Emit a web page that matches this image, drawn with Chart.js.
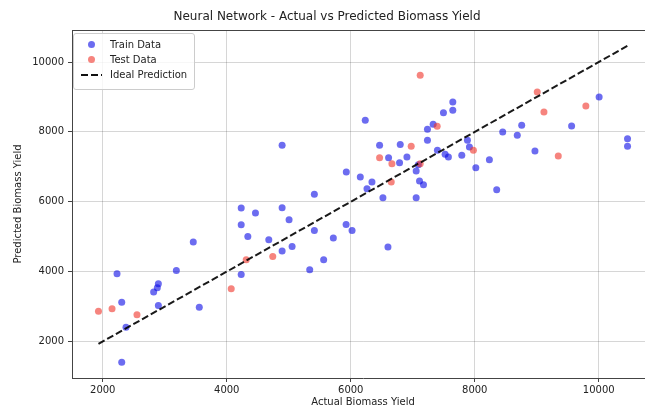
<!DOCTYPE html>
<html>
<head>
<meta charset="utf-8">
<script src="https://cdn.jsdelivr.net/npm/chart.js@4.4.0/dist/chart.umd.min.js"></script>
<style>
  html, body { margin: 0; padding: 0; overflow: hidden; background: #fff; width: 645px; height: 408px; }
  #wrap { position: relative; width: 700px; height: 408px; }
  #legend {
    position: absolute; left: 73px; top: 33px; width: 120px; height: 52px;
    border: 1px solid #ccc; border-radius: 3px; background: rgba(255,255,255,0.8);
    font: 10px "DejaVu Sans", sans-serif; color: #222; box-sizing: content-box;
    padding-top: 3px;
  }
  .row { position: relative; height: 15px; line-height: 15px; }
  .row span.lbl { position: absolute; left: 36px; top: 0; white-space: nowrap; }
  .dot { position: absolute; left: 14px; top: 4px; width: 7px; height: 7px; border-radius: 50%; }
  .dash { position: absolute; left: 7px; top: 7px; width: 21px; height: 2px;
    background: repeating-linear-gradient(to right, #111 0 7px, transparent 7px 10px); }
</style>
</head>
<body>
<div id="wrap">
  <canvas id="chart" width="700" height="408"></canvas>
  <div id="legend"></div>
</div>
<script>
// training set: actual vs predicted
const trainActual = [3460, 2230, 3187, 2897, 2880, 2821, 2306, 2897, 3557, 2375, 2306,
  4893, 5928, 5413, 4233, 4463, 4893, 5005, 4233, 5413, 5925, 6021, 4340, 4678, 5719,
  5054, 4893, 5563, 5338, 4233, 6234, 7237, 7329, 7237, 6465, 6798, 6610, 6906, 7398,
  6787, 7055, 7109, 7173, 6342, 6154, 6262, 6519, 7055, 6600, 7495, 7646, 7646, 7882,
  7914, 8451, 8686, 8757, 8971, 7791, 7522, 7575, 8017, 8236, 8354, 10006, 9562, 10464,
  10464, 7090];
const trainPredicted = [4845, 3940, 4034, 3653, 3540, 3413, 3126, 3031, 2983, 2410, 1407,
  7615, 6850, 6212, 5819, 5676, 5830, 5486, 5343, 5180, 5352, 5180, 5008, 4914, 4960,
  4722, 4587, 4340, 4054, 3920, 8332, 8074, 8217, 7758, 7615, 7636, 7263, 7282, 7472,
  7120, 6879, 6593, 6490, 6564, 6707, 6375, 6117, 6117, 4708, 8548, 8855, 8618, 7758,
  7567, 7997, 7902, 8189, 7452, 7329, 7357, 7282, 6976, 7205, 6346, 9000, 8168, 7806,
  7586, 7060];

// test set: actual vs predicted
const testActual = [1931, 2150, 2552, 4742, 4314, 4072, 7120, 7394, 6975, 6465, 6664,
  7120, 6653, 7978, 9008, 9116, 9792, 9347];
const testPredicted = [2868, 2937, 2765, 4435, 4340, 3510, 9621, 8160, 7587, 7263, 7091,
  7091, 6564, 7472, 9143, 8570, 8742, 7309];

const idealRange = [1931, 10464];
const xTickValues = [2000, 4000, 6000, 8000, 10000];
const yTickValues = [2000, 4000, 6000, 8000, 10000];

const FONT = 'DejaVu Sans';

function toPoints(xs, ys) {
  return xs.map((x, i) => ({ x: x, y: ys[i] }));
}

// top spine (left/bottom come from the axis borders, right one is cut off)
const frame = {
  id: 'frame',
  beforeDatasetsDraw(chart) {
    const { ctx, chartArea: a } = chart;
    ctx.save();
    ctx.strokeStyle = '#444';
    ctx.lineWidth = 1;
    ctx.beginPath();
    ctx.moveTo(a.left, a.top + 0.5);
    ctx.lineTo(a.right, a.top + 0.5);
    ctx.stroke();
    ctx.restore();
  }
};

const ctx = document.getElementById('chart').getContext('2d');

new Chart(ctx, {
  type: 'scatter',
  data: {
    datasets: [{
      label: 'Ideal Prediction',
      data: idealRange.map(v => ({ x: v, y: v })),
      showLine: true,
      borderColor: 'rgba(0,0,0,0.9)',
      borderWidth: 2,
      borderDash: [7, 3],
      pointRadius: 0,
      order: 0
    }, {
      label: 'Test Data',
      data: toPoints(testActual, testPredicted),
      backgroundColor: 'rgba(240,50,40,0.6)',
      borderWidth: 0,
      pointRadius: 3.5,
      order: 1
    }, {
      label: 'Train Data',
      data: toPoints(trainActual, trainPredicted),
      backgroundColor: 'rgba(10,10,230,0.6)',
      borderWidth: 0,
      pointRadius: 3.5,
      order: 2
    }]
  },
  options: {
    responsive: false,
    animation: false,
    devicePixelRatio: 1,
    layout: { padding: { left: 0, right: 46, top: 0, bottom: 0 } },
    plugins: {
      legend: { display: false },
      tooltip: { enabled: false },
      title: {
        display: true,
        text: 'Neural Network - Actual vs Predicted Biomass Yield',
        color: '#222',
        font: { family: FONT, size: 12, weight: 'normal' },
        padding: { top: 10, bottom: 5.6 }
      }
    },
    scales: {
      x: {
        type: 'linear',
        min: 1504,
        max: 10891,
        afterBuildTicks: s => { s.ticks = xTickValues.map(v => ({ value: v })); },
        afterFit: s => { s.height = 30; },
        ticks: { color: '#222', font: { family: FONT, size: 10 }, padding: 2,
          callback: v => String(v) },
        grid: { color: 'rgba(0,0,0,0.16)', tickColor: '#444', tickLength: 4 },
        border: { color: '#444' },
        title: {
          display: true, text: 'Actual Biomass Yield', color: '#222',
          font: { family: FONT, size: 10 }, padding: { top: 0, bottom: 0 }
        }
      },
      y: {
        type: 'linear',
        min: 954,
        max: 10917,
        afterBuildTicks: s => { s.ticks = yTickValues.map(v => ({ value: v })); },
        afterFit: s => { s.width = 72; },
        ticks: { color: '#222', font: { family: FONT, size: 10 }, padding: 4,
          callback: v => String(v) },
        grid: { color: 'rgba(0,0,0,0.16)', tickColor: '#444', tickLength: 4 },
        border: { color: '#444' },
        title: {
          display: true, text: 'Predicted Biomass Yield', color: '#222',
          font: { family: FONT, size: 10 }, padding: { top: 12, bottom: 0 }
        }
      }
    }
  },
  plugins: [frame]
});

// legend box in the top-left corner, like the matplotlib one
const legendItems = [
  { label: 'Train Data', kind: 'dot', color: 'rgba(10,10,230,0.6)' },
  { label: 'Test Data', kind: 'dot', color: 'rgba(240,50,40,0.6)' },
  { label: 'Ideal Prediction', kind: 'dash' }
];
document.getElementById('legend').innerHTML = legendItems.map(it => `
  <div class="row">
    ${it.kind === 'dot' ? `<span class="dot" style="background:${it.color}"></span>` : '<span class="dash"></span>'}
    <span class="lbl">${it.label}</span>
  </div>`).join('');
</script>
</body>
</html>
